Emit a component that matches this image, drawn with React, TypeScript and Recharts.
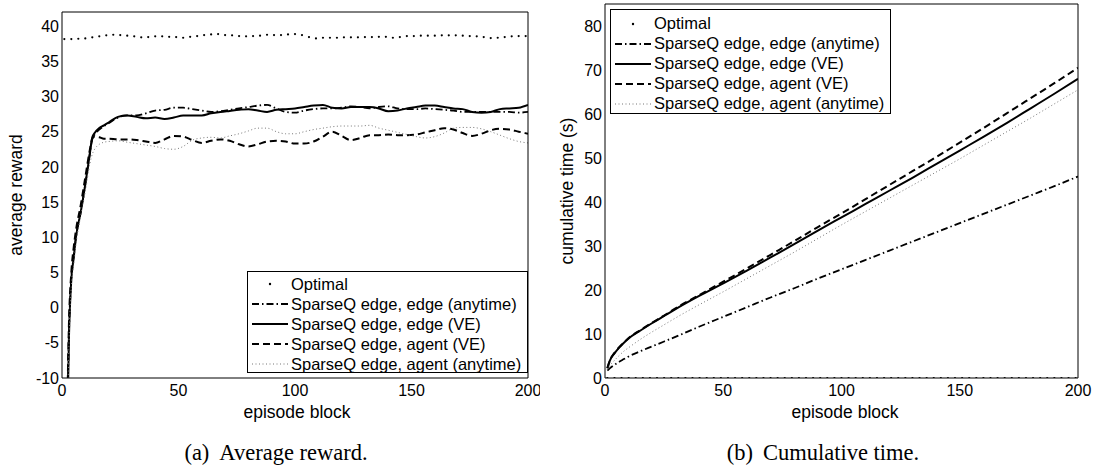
import React from 'react';
import { LineChart, Line, XAxis, YAxis, Legend } from 'recharts';

const FONT = '"Liberation Sans", Arial, Helvetica, sans-serif';

// (a) average reward, per episode block
const rewardEpisodes = [2, 3, 4, 5, 6, 8, 10, 12, 13, 14, 16, 18, 20,
  24, 28, 32, 36, 40, 44, 48, 52, 56, 60, 64, 68, 72, 76, 80, 84, 88, 92, 96, 100,
  104, 108, 112, 116, 120, 124, 128, 132, 136, 140, 144, 148, 152, 156, 160, 164,
  168, 172, 176, 180, 184, 188, 192, 196, 200];
const edgeAnytimeReward = [-22, -3.5, 4, 7.2, 10, 13.5, 17.5, 22, 24.0, 24.6, 25.3, 25.8, 26.2,
  27.0, 27.3, 27.3, 27.6, 28.0, 28.1, 28.4, 28.4, 28.2, 28.0, 27.8, 27.9, 28.1, 28.3, 28.5, 28.7, 28.8, 28.3, 27.8, 27.7,
  28.0, 28.2, 28.3, 28.3, 28.4, 28.6, 28.5, 28.3, 28.5, 28.6, 28.3, 28.2, 28.2, 28.3, 28.2, 28.1,
  28.0, 27.8, 27.8, 27.8, 27.8, 27.8, 27.8, 27.7, 27.8];
const edgeVeReward = [-22, -4, 4, 7, 10, 13.5, 17.5, 22, 24.2, 24.8, 25.5, 25.9, 26.3,
  27.1, 27.3, 27.1, 26.9, 27.0, 26.8, 27.0, 27.3, 27.3, 27.3, 27.6, 27.8, 27.95, 28.1, 28.2, 28.0, 27.8, 28.1, 28.2, 28.3,
  28.5, 28.7, 28.8, 28.4, 28.3, 28.5, 28.5, 28.5, 28.3, 27.9, 28.0, 28.3, 28.5, 28.7, 28.7, 28.5,
  28.3, 28.2, 27.8, 27.7, 27.8, 28.2, 28.3, 28.4, 28.8];
const agentVeReward = [-20, -2, 5, 8.5, 11, 14.5, 18.5, 22.5, 24.0, 24.3, 24.2, 24.0, 24.0,
  23.9, 23.9, 23.8, 23.6, 23.4, 23.9, 24.4, 24.3, 23.8, 23.4, 23.7, 23.9, 23.7, 23.2, 22.9, 23.2, 23.6, 23.7, 23.6, 23.3,
  23.3, 23.6, 24.3, 25.0, 24.4, 23.8, 24.1, 24.5, 24.5, 24.6, 24.5, 24.5, 24.6, 24.9, 25.2, 25.5,
  25.3, 24.8, 24.4, 24.7, 25.2, 25.4, 25.3, 25.0, 24.7];
const agentAnytimeReward = [-24, -5, 3, 6, 9, 13, 16.5, 20.5, 21.8, 22.5, 23.2, 23.5, 23.6,
  23.7, 23.5, 23.3, 23.1, 22.9, 22.6, 22.5, 22.9, 23.8, 24.1, 24.2, 24.1, 24.4, 24.7, 25.1, 25.5, 25.5, 25.0, 24.7, 24.7,
  25.0, 25.3, 25.5, 25.7, 25.8, 25.8, 25.8, 25.9, 25.5, 25.2, 24.9, 24.6, 24.3, 24.1, 24.3, 24.8,
  25.5, 25.6, 25.6, 25.4, 25.0, 24.5, 24.0, 23.6, 23.4];

const optimalEpisodes = [1, 4, 7, 10, 13, 16, 19, 22, 25, 28, 31, 34, 37, 40, 43, 46, 49, 52, 55, 58,
  61, 64, 67, 70, 73, 76, 79, 82, 85, 88, 91, 94, 97, 100, 103, 106, 109, 112, 115, 118,
  121, 124, 127, 130, 133, 136, 139, 142, 145, 148, 151, 154, 157, 160, 163, 166, 169, 172, 175, 178,
  181, 184, 187, 190, 193, 196, 199];
const optimalReward = [38.15, 38.15, 38.2, 38.25, 38.4, 38.54, 38.68, 38.77, 38.72, 38.63, 38.54, 38.4, 38.44, 38.54, 38.54, 38.48, 38.44, 38.34, 38.48, 38.58,
  38.72, 38.82, 38.86, 38.72, 38.68, 38.58, 38.54, 38.58, 38.63, 38.77, 38.72, 38.72, 38.82, 38.86, 38.72, 38.44, 38.25, 38.34, 38.34, 38.34,
  38.4, 38.4, 38.4, 38.44, 38.44, 38.48, 38.48, 38.34, 38.44, 38.58, 38.58, 38.63, 38.63, 38.63, 38.68, 38.68, 38.68, 38.63, 38.58, 38.54,
  38.44, 38.3, 38.34, 38.44, 38.54, 38.58, 38.58];

// (b) cumulative time (s)
const timeEpisodes = [1, 2, 4, 6, 8, 10, 15, 20, 25, 30, 40, 50, 60, 70, 80, 90, 100, 110, 120, 130, 140, 150, 160, 170, 180, 190, 200];
const edgeAnytimeTime = [1.7, 2.2, 3.0, 3.7, 4.3, 4.9, 6.1, 7.2, 8.3, 9.4, 11.7, 13.9, 16.1, 18.3, 20.4, 22.6, 24.7, 26.8, 28.9, 31.0, 33.1, 35.2, 37.3, 39.4, 41.5, 43.6, 45.8];
const edgeVeTime = [2.2, 3.9, 5.6, 6.9, 8.0, 9.0, 10.8, 12.5, 14.1, 15.7, 18.7, 21.5, 24.4, 27.4, 30.4, 33.5, 36.5, 39.5, 42.5, 45.5, 48.6, 51.7, 54.8, 58.0, 61.3, 64.6, 68.0];
const agentVeTime = [2.2, 3.9, 5.7, 7.0, 8.1, 9.1, 10.9, 12.6, 14.2, 15.9, 18.9, 21.9, 24.9, 28.0, 31.1, 34.3, 37.4, 40.6, 43.8, 47.0, 50.2, 53.5, 56.8, 60.2, 63.6, 67.0, 70.5];
const agentAnytimeTime = [1.9, 2.8, 4.0, 5.1, 6.1, 6.9, 8.8, 10.5, 12.1, 13.7, 16.7, 19.6, 22.6, 25.6, 28.6, 31.7, 34.8, 37.8, 40.8, 43.8, 46.8, 49.8, 52.9, 56.0, 59.1, 62.3, 65.5];
const optimalTime = [0, 0, 0, 0, 0, 0, 0, 0, 0, 0, 0, 0, 0, 0, 0, 0, 0, 0, 0, 0,
  0, 0, 0, 0, 0, 0, 0, 0, 0, 0, 0, 0, 0, 0, 0, 0, 0, 0, 0, 0,
  0, 0, 0, 0, 0, 0, 0, 0, 0, 0, 0, 0, 0, 0, 0, 0, 0, 0, 0, 0,
  0, 0, 0, 0, 0, 0, 0];

const episodeTicks = [0, 50, 100, 150, 200];
const rewardTicks = [-10, -5, 0, 5, 10, 15, 20, 25, 30, 35, 40];
const timeTicks = [0, 10, 20, 30, 40, 50, 60, 70, 80];

const SERIES = [
  { key: 'optimal', name: 'Optimal', dot: true, color: '#000', width: 0, dash: '' },
  { key: 'edgeAnytime', name: 'SparseQ edge, edge (anytime)', dot: false, color: '#000', width: 1.8, dash: '7 3 1.5 3' },
  { key: 'edgeVe', name: 'SparseQ edge, edge (VE)', dot: false, color: '#000', width: 2, dash: '' },
  { key: 'agentVe', name: 'SparseQ edge, agent (VE)', dot: false, color: '#000', width: 2, dash: '7 4' },
  { key: 'agentAnytime', name: 'SparseQ edge, agent (anytime)', dot: false, color: '#777', width: 1, dash: '1 2.5' },
];

const rewardData = rewardEpisodes.map((ep, i) => ({
  episode: ep,
  edgeAnytime: edgeAnytimeReward[i],
  edgeVe: edgeVeReward[i],
  agentVe: agentVeReward[i],
  agentAnytime: agentAnytimeReward[i],
}));
const rewardOptimal = optimalEpisodes.map((ep, i) => ({ episode: ep, optimal: optimalReward[i] }));

const timeData = timeEpisodes.map((ep, i) => ({
  episode: ep,
  edgeAnytime: edgeAnytimeTime[i],
  edgeVe: edgeVeTime[i],
  agentVe: agentVeTime[i],
  agentAnytime: agentAnytimeTime[i],
}));
const timeOptimal = optimalEpisodes.map((ep, i) => ({ episode: ep, optimal: optimalTime[i] }));

const tickStyle = { fill: '#000', fontSize: 16, fontFamily: FONT };

const LegendBox = ({ height, padTop }: { height: number; padTop: number }) => (
  <div style={{
    width: 281, height, boxSizing: 'border-box', border: '1px solid #000', background: '#fff',
    paddingTop: padTop, fontFamily: FONT, fontSize: 16.5, color: '#000',
  }}>
    {SERIES.map(s => (
      <div key={s.key} style={{ display: 'flex', alignItems: 'center', height: 20, whiteSpace: 'nowrap' }}>
        <svg width={42} height={20} style={{ flex: 'none' }}>
          {s.dot
            ? <circle cx={22} cy={10} r={1.2} fill="#000" />
            : <line x1={4} x2={40} y1={10} y2={10} stroke={s.color} strokeWidth={s.width} strokeDasharray={s.dash || undefined} />}
        </svg>
        <span style={{ marginLeft: 1 }}>{s.name}</span>
      </div>
    ))}
  </div>
);

const Text = ({ x, y, size, family, rotate, children }: any) => (
  <div style={{
    position: 'absolute', left: x, top: y, fontSize: size, fontFamily: family, lineHeight: `${size + 2}px`,
    whiteSpace: 'nowrap', color: '#000',
    transform: `translate(-50%, -50%)${rotate ? ' rotate(-90deg)' : ''}`,
  }}>{children}</div>
);

type PanelProps = {
  data: any[];
  optimal: any[];
  yDomain: [number, number];
  yTicks: number[];
  yWidth: number;
  width: number;
  marginTop: number;
  marginRight: number;
  legendLeft: number;
  legendTop: number;
  legendHeight: number;
  legendPad: number;
  optimalR: number;
};

const Panel = (p: PanelProps) => (
  <LineChart width={p.width} height={469} data={p.data}
    margin={{ top: p.marginTop, right: p.marginRight, left: 0, bottom: 61 }}>
    <XAxis xAxisId="b" dataKey="episode" type="number" domain={[0, 200]} ticks={episodeTicks} interval={0}
      allowDataOverflow tickLine={false} tickSize={0} tickMargin={7} height={30}
      axisLine={{ stroke: '#000', strokeWidth: 1 }} tick={tickStyle} />
    <XAxis xAxisId="bm" dataKey="episode" type="number" domain={[0, 200]} ticks={episodeTicks} interval={0}
      allowDataOverflow mirror tick={false} tickSize={5} axisLine={false} tickLine={{ stroke: '#000' }} />
    <XAxis xAxisId="t" orientation="top" dataKey="episode" type="number" domain={[0, 200]} ticks={episodeTicks} interval={0}
      allowDataOverflow mirror tick={false} tickSize={5} axisLine={{ stroke: '#000' }} tickLine={{ stroke: '#000' }} />
    <YAxis yAxisId="l" type="number" domain={p.yDomain} ticks={p.yTicks} interval={0} allowDataOverflow
      width={p.yWidth} tickLine={false} tickSize={0} tickMargin={3}
      axisLine={{ stroke: '#000', strokeWidth: 1 }} tick={tickStyle} />
    <YAxis yAxisId="lm" type="number" domain={p.yDomain} ticks={p.yTicks} interval={0} allowDataOverflow
      mirror tick={false} tickSize={5} axisLine={false} tickLine={{ stroke: '#000' }} />
    <YAxis yAxisId="r" orientation="right" type="number" domain={p.yDomain} ticks={p.yTicks} interval={0} allowDataOverflow
      mirror tick={false} tickSize={5} axisLine={{ stroke: '#000' }} tickLine={{ stroke: '#000' }} />
    <Legend layout="vertical" align="center" verticalAlign="middle"
      wrapperStyle={{ left: p.legendLeft, top: p.legendTop, width: 281, height: p.legendHeight }}
      content={() => <LegendBox height={p.legendHeight} padTop={p.legendPad} />} />
    {SERIES.filter(s => !s.dot).map(s => (
      <Line key={s.key} xAxisId="b" yAxisId="l" type="monotone" dataKey={s.key} name={s.name}
        stroke={s.color} strokeWidth={s.width} strokeDasharray={s.dash || undefined}
        dot={false} activeDot={false} isAnimationActive={false} />
    ))}
    <Line xAxisId="b" yAxisId="l" data={p.optimal} dataKey="optimal" name="Optimal" stroke="none"
      dot={{ r: p.optimalR, fill: '#000', stroke: 'none' }} activeDot={false} isAnimationActive={false} />
  </LineChart>
);

export default function App() {
  return (
    <div style={{ position: 'absolute', left: 0, top: 0, width: 1097, height: 469, background: '#fff', overflow: 'hidden', fontFamily: FONT }}>
      <div style={{ position: 'absolute', left: 0, top: 0 }}>
        <Panel data={rewardData} optimal={rewardOptimal} yDomain={[-10, 42]} yTicks={rewardTicks} yWidth={62}
          width={540} marginTop={12} marginRight={12}
          legendLeft={247} legendTop={271} legendHeight={102} legendPad={2} optimalR={1.1} />
      </div>
      <div style={{ position: 'absolute', left: 560, top: 0 }}>
        <Panel data={timeData} optimal={timeOptimal} yDomain={[0, 85]} yTicks={timeTicks} yWidth={45}
          width={537} marginTop={4} marginRight={19}
          legendLeft={50} legendTop={9} legendHeight={105} legendPad={3.5} optimalR={1.1} />
      </div>
      <Text x={17} y={195} size={17.5} family={FONT} rotate>average reward</Text>
      <Text x={297} y={413} size={17.5} family={FONT}>episode block</Text>
      <Text x={568} y={191} size={17.5} family={FONT} rotate>cumulative time (s)</Text>
      <Text x={845} y={413} size={17.5} family={FONT}>episode block</Text>
      <Text x={276} y={453} size={22.5} family={'"Liberation Serif", "Times New Roman", serif'}>
        (a)<span style={{ marginLeft: 10 }}>Average reward.</span>
      </Text>
      <Text x={823} y={453} size={22.5} family={'"Liberation Serif", "Times New Roman", serif'}>
        (b)<span style={{ marginLeft: 10 }}>Cumulative time.</span>
      </Text>
    </div>
  );
}
